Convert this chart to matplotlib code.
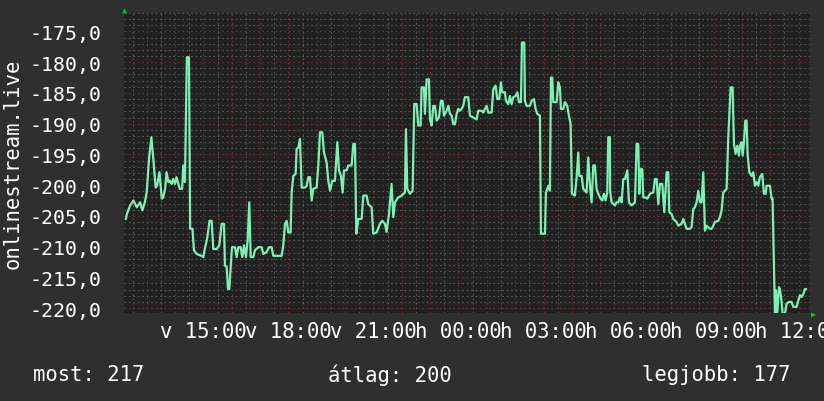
import matplotlib.pyplot as plt
from matplotlib.ticker import FixedLocator, NullFormatter

# minutes since 12:00 (Sunday), value
minutes = [16, 18, 25, 32, 39, 46, 51, 56, 60, 65, 70, 74, 79, 82, 87, 92, 95, 99, 102, 106,
           109, 113, 116, 120, 123, 127, 130, 135, 137.5, 141, 145, 149.5, 152, 157, 160, 166, 176, 180, 183, 188,
           193, 197.5, 201, 208, 213.7, 218.7, 223.6, 225.7, 229.3, 232.1, 234.9, 237.7, 240.5, 246.9, 250.4, 254, 258.9, 262.4, 266, 270.2,
           273.7, 277.2, 280.1, 285.7, 289.2, 296.3, 303.3, 306.9, 313.9, 318.9, 324.5, 328, 335.1, 345.7, 349.2, 352.7, 356.3, 359.8, 364.7, 366.8,
           370.4, 375.3, 377.4, 381, 384.5, 388, 395.1, 398.6, 402.1, 405.6, 409.2, 412.7, 419.7, 423.3, 426.8, 431.7, 435.3, 440.9, 444.4, 448,
           452.9, 458.5, 463.5, 467, 471.2, 474.8, 477.6, 483.2, 486.8, 493.8, 497.4, 500.9, 503.7, 507.9, 515, 518.5, 525.5, 529, 536.1, 539.6,
           546.7, 553.7, 558.7, 564.3, 567.8, 572.8, 578.4, 582, 585.5, 592.5, 599.6, 606.6, 608.8, 611.6, 617.2, 622.9, 626.4, 631.3, 634.9, 639.8,
           641.9, 646.9, 649, 652.5, 657.4, 659.6, 663.1, 666.6, 670.1, 673.7, 678.6, 682.8, 686.4, 689.2, 694.8, 698.4, 701.9, 705.4, 709, 712.5,
           716, 719.5, 723.1, 726.6, 730.1, 733.6, 740.7, 744.2, 751.3, 758.3, 761.9, 768.9, 772.4, 776, 779.5, 783, 790.1, 793.6, 798.5, 802.1,
           806.3, 809.8, 812.6, 818.3, 820.4, 825.4, 828.9, 832.4, 835.9, 840.9, 844.4, 847.9, 852.2, 854.3, 859.2, 860.6, 864.2, 871.2, 874.7, 879.7,
           883.2, 886.7, 892.4, 894.5, 903, 905.1, 910, 913.5, 915.7, 918.5, 920.6, 927.6, 931.2, 934.7, 936.8, 941.7, 945.3, 950.2, 953.7, 957.3,
           960.1, 966.4, 970, 973.5, 975.6, 980.6, 984.1, 991.1, 994.7, 998.2, 1001.7, 1005.3, 1008.8, 1012.3, 1015.8, 1020.8, 1024.3, 1027.8, 1031.3, 1034.9,
           1037, 1040.5, 1041, 1044.1, 1051.1, 1054.7, 1058.2, 1061.7, 1065.3, 1068.8, 1072.3, 1077.3, 1080.8, 1086.4, 1093.5, 1097, 1100.5, 1102.7, 1105.5, 1109,
           1111.1, 1116.1, 1119.6, 1125.2, 1132.3, 1135.8, 1139.3, 1142.9, 1146.4, 1151.3, 1155.6, 1160.5, 1164, 1166.1, 1171.1, 1174.6, 1181.7, 1185.2, 1192.2, 1195.8,
           1199.3, 1202.8, 1209.9, 1213.4, 1216.9, 1220.5, 1224, 1227.5, 1231.1, 1234.6, 1238.1, 1241.6, 1245.2, 1252.2, 1255.7, 1259.3, 1262.8, 1269.9, 1273.4, 1276.9,
           1280.4, 1284, 1287.5, 1291, 1296, 1300.2, 1303, 1306.5, 1310.1, 1313.6, 1315.7, 1319.2, 1321.4, 1324.2, 1327, 1329.8, 1331.9, 1335.5, 1340.4, 1343.9,
           1347.5, 1351, 1354.5, 1358, 1363, 1366.5, 1370, 1372.2, 1379.2, 1382.7, 1384.8, 1389.8, 1391.9, 1394.7, 1398.3, 1400.4, 1403.9, 1406, 1411, 1414.5,
           1419.4, 1425, 1428.6, 1435.6, 1439.2, 1442.7, 1446.2, 1449.8, 1453.3, 1455.4]
values = [-205.5, -204.7, -203.3, -202.5, -203.6, -202.8, -204.1, -202.8, -201.2, -195.7, -192.2, -195.7, -200.4, -200.1, -197.9, -202.2, -202.0, -200.6, -197.9, -199.5,
          -199.3, -199.8, -199.0, -199.8, -198.7, -199.8, -200.6, -200.6, -196.8, -199.5, -179.2, -179.2, -207.1, -207.1, -210.6, -211.2, -211.5, -211.7, -210.4, -208.7,
          -205.8, -205.8, -210.4, -210.4, -209.8, -206.3, -206.3, -213.1, -213.3, -216.9, -216.9, -213.6, -210.1, -210.1, -211.7, -210.1, -210.1, -211.7, -209.8, -211.7,
          -209.0, -202.8, -211.7, -211.7, -210.6, -210.1, -210.1, -211.2, -210.9, -210.1, -210.1, -211.5, -211.5, -211.5, -209.8, -206.3, -205.8, -207.7, -207.7, -201.2,
          -198.5, -198.2, -194.1, -193.9, -192.5, -200.4, -200.4, -200.1, -198.7, -198.7, -202.5, -200.6, -200.4, -196.8, -191.4, -191.4, -194.7, -196.3, -199.3, -200.9,
          -199.3, -199.3, -193.0, -197.6, -198.5, -201.2, -197.6, -197.6, -196.8, -196.8, -193.3, -193.3, -207.9, -205.5, -205.5, -201.7, -201.7, -203.1, -203.6, -207.9,
          -207.7, -206.3, -205.8, -206.3, -207.6, -204.7, -199.8, -205.2, -202.8, -202.0, -201.7, -201.2, -190.9, -200.6, -201.4, -200.9, -186.8, -186.8, -190.3, -190.3,
          -184.1, -184.1, -188.4, -182.8, -182.8, -189.3, -190.3, -187.1, -187.1, -189.5, -189.0, -186.3, -186.3, -188.7, -187.9, -187.1, -188.4, -188.7, -190.1, -190.1,
          -188.4, -187.6, -187.9, -187.6, -187.1, -185.7, -185.7, -188.7, -189.0, -189.3, -187.9, -187.9, -188.2, -187.6, -187.1, -188.2, -188.2, -184.4, -183.8, -186.0,
          -186.0, -183.3, -184.9, -184.9, -186.3, -186.8, -185.5, -186.8, -185.7, -185.5, -184.9, -186.5, -186.5, -176.8, -176.8, -186.3, -187.1, -187.1, -186.3, -186.0,
          -187.6, -188.4, -188.7, -207.9, -207.9, -201.2, -200.1, -200.9, -182.5, -182.5, -186.5, -186.5, -183.3, -184.1, -187.6, -187.6, -186.5, -187.1, -188.7, -190.1,
          -201.4, -201.7, -198.7, -194.7, -198.5, -198.5, -200.6, -201.2, -195.5, -200.1, -202.8, -196.8, -196.8, -200.6, -201.4, -202.2, -202.5, -201.4, -202.5, -201.2,
          -192.2, -192.2, -200.9, -202.8, -203.3, -202.8, -202.8, -202.0, -202.8, -199.0, -199.0, -197.6, -202.8, -203.3, -202.8, -193.3, -193.3, -201.4, -197.4, -197.4,
          -202.0, -202.0, -202.2, -201.4, -201.2, -199.0, -199.0, -203.1, -199.8, -199.8, -204.4, -197.9, -197.9, -204.4, -204.7, -205.5, -206.0, -206.6, -206.3, -205.5,
          -206.3, -207.1, -207.1, -206.8, -203.9, -203.6, -202.8, -200.9, -202.8, -202.8, -197.9, -207.4, -206.6, -207.1, -207.1, -206.6, -206.0, -205.8, -205.2, -204.1,
          -201.2, -200.9, -200.6, -192.2, -184.1, -184.1, -193.3, -194.9, -193.6, -195.2, -193.6, -193.0, -195.2, -193.0, -189.5, -189.5, -194.9, -197.9, -198.5, -197.9,
          -200.1, -199.5, -200.1, -198.7, -198.2, -201.4, -201.4, -200.1, -200.1, -202.2, -202.2, -220.9, -217.1, -220.9, -216.6, -216.9, -219.0, -220.9, -220.9, -219.3,
          -219.0, -219.0, -219.8, -219.8, -218.8, -217.9, -218.2, -217.7, -216.9, -216.9]

x_label_pos = [180, 360, 540, 720, 900, 1080, 1260, 1440]
x_labels = ["v 15:00", "v 18:00", "v 21:00", "h 00:00", "h 03:00", "h 06:00", "h 09:00", "h 12:00"]
y_ticks = [-220, -215, -210, -205, -200, -195, -190, -185, -180, -175]
footer = ["most: 217", "átlag: 200", "legjobb: 177"]

bg = "#2f2f2f"
plot_bg = "#212121"
line_color = "#7df0b6"
font = "DejaVu Sans Mono"

plt.rcParams["font.family"] = font
fig = plt.figure(figsize=(8.24, 4.02), dpi=100, facecolor=bg)
ax = fig.add_axes([124/824, 1-314/402, 686/824, 300/402])
ax.set_facecolor(plot_bg)

ax.plot(minutes, values, color=line_color, lw=1.6, zorder=3)
ax.set_xlim(12, 1464)
ax.set_ylim(-220.8, -172)

# grid: red every hour / 5 units, grey every half hour / 1 unit
hours = list(range(60, 1464, 60))
halves = list(range(30, 1464, 60))
ones = [v for v in range(-220, -171) if v % 5 != 0]
ax.xaxis.set_major_locator(FixedLocator(hours))
ax.xaxis.set_minor_locator(FixedLocator(halves))
ax.yaxis.set_major_locator(FixedLocator(y_ticks))
ax.yaxis.set_minor_locator(FixedLocator(ones))
ax.grid(which="major", color="#6e3232", lw=0.8, ls=(0, (1.5, 2.5)))
ax.grid(which="minor", color="#575757", lw=0.8, ls=(0, (1.5, 2.5)))
ax.set_axisbelow(True)

ax.set_xticklabels(["" for h in hours])
ax.xaxis.set_minor_formatter(NullFormatter())
ax.set_yticklabels([("%.1f" % v).replace(".", ",") for v in y_ticks])
ax.tick_params(which="both", length=0, colors="white", labelsize=14.3)
ax.tick_params(axis="y", pad=16)
for pos, lab in zip(x_label_pos, x_labels):
    ax.text(pos, -0.028, lab, transform=ax.get_xaxis_transform(), ha="center", va="top",
            color="white", fontsize=14.9, clip_on=False)

for s in ax.spines.values():
    s.set_visible(False)

ax.set_ylabel("onlinestream.live", color="white", fontsize=14.8)
ax.yaxis.set_label_coords(-101/686, 0.5)

# axis arrows
fig.text(124/824, 1-10/402, "\u25b2", color="#00d000", fontsize=6, ha="center", va="center")
fig.text(813/824, 1-314/402, "\u25b6", color="#00d000", fontsize=6, ha="center", va="center")

fig.text(33/824, 1-375/402, footer[0], color="white", fontsize=14.8, va="center", ha="left")
fig.text(328/824, 1-375/402, footer[1], color="white", fontsize=14.8, va="center", ha="left")
fig.text(791/824, 1-375/402, footer[2], color="white", fontsize=14.8, va="center", ha="right")

fig.savefig("out.png", dpi=100, facecolor=bg)
